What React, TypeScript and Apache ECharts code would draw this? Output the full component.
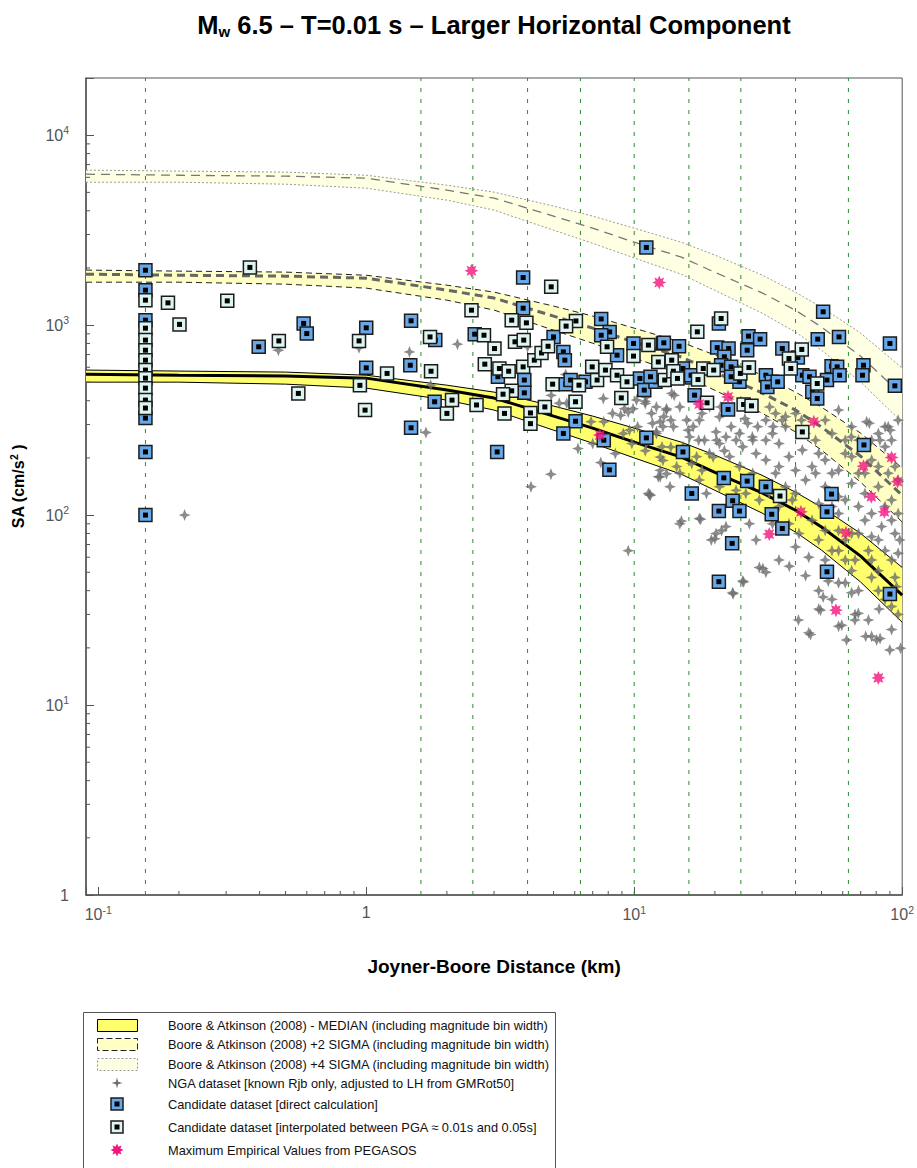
import React, { useEffect, useRef } from 'react';
import * as echarts from 'echarts';

// ---------------- data ----------------
const DIST = [0.09, 0.2, 0.5, 1, 2, 3, 5, 7, 10, 15, 20, 30, 40, 50, 70, 100];

const MED_UP = [580, 573, 566, 545, 483, 444, 375, 332, 287, 242, 207, 162, 132, 110, 80, 53];
const MED_MID = [552, 545, 539, 526, 455, 413, 332, 287, 242, 202, 168, 131, 106, 86.5, 60.8, 37.9];
const MED_LO = [501, 501, 489, 466, 403, 357, 280, 239, 200, 164, 135, 102.5, 81.4, 65.4, 44.4, 27.3];

const S2_UP = [1949, 1925, 1902, 1831, 1623, 1492, 1260, 1116, 964, 813, 696, 546, 444, 370, 270, 177];
const S2_MID = [1855, 1831, 1811, 1767, 1529, 1388, 1116, 964, 813, 679, 565, 440, 357, 291, 204, 127];
const S2_LO = [1683, 1683, 1643, 1566, 1354, 1200, 941, 803, 672, 551, 454, 344, 274, 220, 149, 92];

const S4_UP = [6548, 6469, 6390, 6153, 5453, 5013, 4234, 3748, 3240, 2732, 2337, 1835, 1490, 1242, 908, 594];
const S4_MID = [6232, 6153, 6085, 5938, 5137, 4663, 3748, 3240, 2732, 2281, 1897, 1479, 1197, 977, 686, 428];
const S4_LO = [5656, 5656, 5521, 5261, 4550, 4031, 3161, 2698, 2258, 1852, 1524, 1157, 919, 738, 501, 308];

const NGA: [number, number][] = [
  [0.21, 100], [0.47, 738], [0.94, 760], [1.45, 723], [2.19, 794], [1.74, 483], [1.67, 272],
  [4.0, 769], [4.89, 164], [4.12, 141], [6.17, 224], [7.5, 189], [8.5, 211], [11.3, 130], [12.3, 159],
  [9.5, 349], [10.2, 403], [9.9, 363], [8.9, 335], [8.3, 343], [7.7, 310], [6.9, 310], [5.6, 388], [5.25, 388], [4.9, 427], [5.55, 550],
  [11.1, 418], [12.1, 371], [13.2, 363], [11.1, 472], [12.8, 292], [12.1, 275], [12.8, 194], [12.5, 172], [13.2, 165],
  [9.1, 269], [10.3, 292], [9.6, 280], [9.5, 65], [11.4, 128],
  [7.67, 411], [9.2, 363], [11.0, 397], [14.1, 427], [17.9, 343], [21.0, 371], [25.9, 322], [32.0, 371], [36.7, 330], [42.1, 316],
  [33.0, 292], [27.6, 258], [64.6, 258], [75.4, 304], [90.3, 280], [82.6, 248],
  [11.0, 387], [13.8, 437], [14.8, 371], [15.7, 316], [14.0, 292], [13.2, 357], [12.5, 310], [11.6, 343], [17.5, 316], [19.1, 371],
  [20.8, 329], [16.1, 258], [18.3, 248], [20.2, 274], [23.0, 292], [24.0, 248], [26.5, 304], [28.9, 292], [31.0, 316], [33.7, 343],
  [36.7, 292], [40.0, 343], [51.6, 316], [57.9, 357], [64.8, 292], [73.7, 310], [81.5, 269], [88.7, 292], [96.6, 316],
  [11.1, 238], [12.7, 229], [14.4, 180], [17.1, 203], [19.1, 211], [20.8, 238], [22.7, 203], [25.4, 229], [28.5, 211], [31.0, 248],
  [34.7, 238], [37.8, 203], [42.4, 220], [46.1, 180], [51.6, 195], [57.9, 172], [64.8, 203], [68.7, 166], [76.9, 195], [86.3, 229], [94.0, 180],
  [11.5, 127], [12.5, 159], [13.6, 141], [14.8, 166], [17.5, 153], [18.6, 130], [20.8, 141], [24.0, 135], [27.7, 166], [29.3, 120],
  [33.7, 166], [36.7, 141], [40.0, 130], [43.6, 153], [47.5, 166], [51.6, 141], [57.9, 125], [64.8, 147], [72.6, 130], [81.5, 141], [91.3, 120],
  [14.8, 90], [17.5, 96], [20.2, 80], [22.0, 87], [26.9, 90], [28.5, 74], [37.8, 90], [41.2, 80], [46.1, 94], [51.6, 83],
  [57.9, 102], [64.8, 80], [72.6, 94], [76.9, 77], [83.8, 87], [91.3, 94], [98.0, 74],
  [19.4, 74], [29.3, 53], [31.0, 50], [34.7, 58], [40.0, 68], [44.8, 60], [51.6, 58], [57.9, 65], [66.7, 58], [74.8, 65], [81.5, 51], [91.3, 58], [96.6, 63],
  [25.4, 45], [23.3, 39], [43.6, 48], [48.8, 40], [54.7, 36], [61.3, 44], [68.7, 40], [76.9, 47], [86.3, 36], [95.3, 42],
  [48.8, 32], [57.9, 26], [66.7, 30], [74.8, 28], [44.8, 24], [76.9, 23], [91.3, 25],
  [12.1, 269], [15.2, 229], [16.6, 292], [22.0, 258], [24.7, 269], [27.7, 248], [32.8, 269], [35.7, 316], [43.6, 269], [47.5, 248],
  [54.7, 269], [61.3, 248], [68.7, 248], [76.9, 248], [86.3, 292], [91.3, 248],
  [24.7, 180], [31.0, 195], [34.7, 180], [40.0, 172], [48.8, 211], [54.7, 166], [61.3, 211], [72.6, 166], [81.5, 180], [88.7, 166], [96.6, 153],
  [26.1, 130], [31.9, 130], [34.7, 111], [38.9, 120], [48.8, 115], [54.7, 111], [61.3, 120], [68.7, 111], [76.9, 102], [86.3, 111], [96.6, 102],
  [32.8, 90], [57.9, 83], [61.3, 74], [68.7, 80], [81.5, 74], [94.0, 80], [48.8, 74],
  [54.7, 65], [64.8, 51], [76.9, 58], [86.3, 65], [94.0, 47], [61.3, 58],
  [57.9, 44], [64.8, 39], [81.5, 40], [91.3, 33], [96.6, 30],
  [15.0, 93], [17.7, 95], [20.0, 75], [21.2, 83], [23.4, 38.5], [25.6, 44.5], [30.2, 52.4], [37.9, 53.8],
  [45.5, 23.5], [49.6, 31.6], [53.0, 45], [59.5, 26.3], [66.6, 28], [73.1, 23], [82.7, 22.4], [89.9, 19.5], [98.6, 19.9],
  [82.0, 32], [41.0, 28], [62.0, 22], [50.7, 37], [68.6, 30.4], [80.3, 22],
  [20.3, 248], [17.4, 248], [15.9, 280], [13.7, 316], [12.9, 330], [11.7, 304], [15.0, 211], [16.4, 187], [17.9, 172], [19.7, 202],
  [21.7, 218], [9.8, 238], [11.0, 218], [12.5, 202], [13.7, 228], [7.0, 238], [7.7, 258],
];

const DIRECT: [number, number][] = [
  [0.15, 1946], [0.15, 1528], [0.15, 1062], [0.15, 324], [0.15, 215], [0.15, 100],
  [0.584, 1021], [0.6, 903], [0.397, 769], [1.0, 968], [1.0, 596],
  [11.1, 2565], [3.85, 1782], [3.85, 1228], [1.47, 1054], [7.53, 1078], [8.1, 921], [7.53, 885], [8.63, 695], [9.94, 801], [12.8, 801],
  [1.81, 834], [1.46, 615], [1.8, 395], [1.47, 288], [3.08, 215], [2.54, 896], [3.1, 535], [3.89, 514], [3.89, 440],
  [5.0, 867], [5.44, 723], [5.51, 654], [5.55, 489], [6.04, 312], [5.44, 269], [7.7, 248], [8.08, 173],
  [10.5, 524], [10.9, 455], [12.0, 503], [6.58, 503], [11.1, 255], [5.79, 514],
  [50.7, 1175], [20.7, 1019], [26.7, 875], [29.5, 844], [48.4, 844], [58.1, 867], [90.0, 801], [12.9, 807], [14.7, 774], [20.4, 762],
  [22.5, 753], [26.4, 738], [35.7, 753], [40.8, 675], [21.7, 681],
  [15.2, 591], [21.1, 615], [23.0, 603], [24.7, 503], [23.0, 535], [31.0, 545], [32.6, 503], [31.4, 473], [42.4, 545], [45.1, 535],
  [46.2, 446], [48.2, 411], [52.4, 514], [54.5, 608], [57.2, 603], [58.4, 545], [71.7, 615], [71.1, 545], [93.9, 479],
  [16.4, 530], [16.8, 428], [22.4, 360], [72.0, 234], [16.3, 545], [11.5, 535], [34.3, 503],
  [15.2, 215], [16.4, 130], [21.6, 157], [23.3, 119], [20.7, 105], [24.7, 105], [26.4, 151], [31.0, 141], [32.6, 101], [35.7, 85],
  [23.2, 71], [20.7, 44.6], [54.5, 129], [52.4, 104], [52.4, 50.3], [90.0, 38.4],
];

const INTERP: [number, number][] = [
  [0.15, 1354], [0.15, 964], [0.15, 834], [0.15, 738], [0.15, 654], [0.15, 580], [0.15, 526], [0.15, 466], [0.15, 403], [0.15, 366],
  [0.368, 2013], [0.182, 1310], [0.303, 1342], [0.201, 1009], [0.472, 826], [0.94, 826], [0.947, 482], [0.558, 437], [0.99, 357],
  [4.9, 1591], [2.47, 1199], [3.49, 1062], [3.96, 1028], [6.06, 1052], [5.57, 988], [7.92, 769], [11.3, 785], [9.94, 687], [12.3, 640],
  [1.73, 867], [1.196, 557], [1.745, 572], [2.09, 403], [2.0, 343], [2.58, 380], [2.75, 885], [3.01, 753], [2.77, 623], [3.14, 591],
  [3.4, 572], [3.59, 817], [3.87, 834], [3.85, 603], [3.49, 451], [3.24, 433], [3.28, 343], [4.1, 345], [4.1, 303], [4.24, 654],
  [4.51, 714], [4.77, 774], [4.64, 371], [4.96, 489], [6.22, 483], [6.04, 395], [6.97, 603], [7.27, 514], [7.81, 580], [8.63, 545],
  [9.4, 503], [13.0, 514], [8.95, 414],
  [21.1, 1084], [17.2, 922], [42.2, 745], [13.8, 654], [37.8, 667], [38.4, 591], [14.0, 572], [18.1, 591], [19.8, 580], [24.9, 557],
  [26.8, 598], [48.2, 493], [17.3, 517], [14.5, 524], [18.7, 390], [25.6, 382], [27.4, 376], [42.4, 274], [35.0, 126],
];

const PEGASOS: [number, number][] = [
  [2.47, 1932], [12.4, 1678], [7.44, 264], [17.5, 384], [22.4, 419], [46.8, 310], [91.3, 201], [71.7, 181],
  [96.1, 150], [76.7, 125], [85.8, 104], [41.9, 104], [61.7, 80.7], [31.9, 79.4], [56.6, 31.6], [81.5, 13.9],
];

const GUIDE_X = [0.15, 1.6, 2.5, 4, 6.3, 10, 16, 25, 40, 63];

const X_TICKS = [0.1, 1, 10, 100];
const X_TICK_LABELS = ['10^-1', '1', '10^1', '10^2'];
const Y_TICKS = [1, 10, 100, 1000, 10000];
const Y_TICK_LABELS = ['1', '10^1', '10^2', '10^3', '10^4'];
const MINOR_X = [0.2, 0.3, 0.4, 0.5, 0.6, 0.7, 0.8, 0.9, 2, 3, 4, 5, 6, 7, 8, 9, 20, 30, 40, 50, 60, 70, 80, 90];
const MINOR_Y = [2, 3, 4, 5, 6, 7, 8, 9, 20, 30, 40, 50, 60, 70, 80, 90, 200, 300, 400, 500, 600, 700, 800, 900,
  2000, 3000, 4000, 5000, 6000, 7000, 8000, 9000];

const LEGEND_TEXTS = [
  'Boore & Atkinson (2008) - MEDIAN (including magnitude bin width)',
  'Boore & Atkinson (2008) +2 SIGMA (including magnitude bin width)',
  'Boore & Atkinson (2008) +4 SIGMA (including magnitude bin width)',
  'NGA dataset [known Rjb only, adjusted to LH from GMRot50]',
  'Candidate dataset [direct calculation]',
  'Candidate dataset [interpolated between PGA \u2248 0.01s and 0.05s]',
  'Maximum Empirical Values from PEGASOS',
];

// ---------------- styling ----------------
const X_MIN = 0.09, X_MAX = 100, Y_MIN = 1, Y_MAX = 20000;
const FONT = '"Liberation Sans", Arial, sans-serif';
const C_MED = '#FFFF6E';
const C_S2 = '#FFFFC4';
const C_S4 = '#FFFFE4';
const C_BLUE = '#68A8E8';
const C_LIGHT = '#DDF4F0';
const C_PINK = '#F2147E';
const C_GRAY = '#6E6E6E';
const STAR4 = 'path://M0,-10L2.8,-2.8L10,0L2.8,2.8L0,10L-2.8,2.8L-10,0L-2.8,-2.8Z';
const BURST = 'path://M10,0L5.08,2.1L7.07,7.07L2.1,5.08L0,10L-2.1,5.08L-7.07,7.07L-5.08,2.1L-10,0L-5.08,-2.1L-7.07,-7.07L-2.1,-5.08L0,-10L2.1,-5.08L7.07,-7.07L5.08,-2.1Z';

function richLabel(s: string) {
  const parts = s.split('^');
  return parts.length === 1 ? `{b|${parts[0]}}` : `{b|${parts[0]}}{s|${parts[1]}}`;
}
function tickFormatter(ticks: number[], labels: string[]) {
  return (v: number) => {
    for (let i = 0; i < ticks.length; i++) {
      if (Math.abs(Math.log10(v) - Math.log10(ticks[i])) < 0.004) return richLabel(labels[i]);
    }
    return '';
  };
}
const tickRich = {
  b: { fontSize: 16, color: '#555', fontFamily: FONT },
  s: { fontSize: 10.5, color: '#555', fontFamily: FONT, padding: [0, 0, 10, 0] },
};

function bandSeries(lo: number[], up: number[], fill: string) {
  return {
    type: 'custom', coordinateSystem: 'cartesian2d', silent: true, z: 1,
    data: DIST.map((d, i) => [d, lo[i], up[i]]),
    encode: { x: 0, y: [1, 2] },
    renderItem: (params: any, api: any) => {
      if (params.dataIndex !== 0) return null;
      const pts: number[][] = [];
      for (let i = 0; i < DIST.length; i++) pts.push(api.coord([DIST[i], up[i]]));
      for (let i = DIST.length - 1; i >= 0; i--) pts.push(api.coord([DIST[i], lo[i]]));
      return { type: 'polygon', shape: { points: pts }, style: { fill } };
    },
  };
}
function curve(vals: number[], color: string, width: number, type: any, z = 3) {
  return {
    type: 'line', silent: true, z, symbol: 'none', showSymbol: false,
    data: DIST.map((d, i) => [d, vals[i]]),
    lineStyle: { color, width, type },
  };
}
function squareSeries(data: [number, number][], fill: string, z: number) {
  return {
    type: 'custom', coordinateSystem: 'cartesian2d', silent: true, z,
    data, encode: { x: 0, y: 1 },
    renderItem: (params: any, api: any) => {
      const p = api.coord([api.value(0), api.value(1)]);
      return {
        type: 'group', children: [
          { type: 'rect', shape: { x: p[0] - 6.5, y: p[1] - 6.5, width: 13, height: 13 }, style: { fill, stroke: '#1b1b1b', lineWidth: 1.5 } },
          { type: 'rect', shape: { x: p[0] - 2.5, y: p[1] - 2.5, width: 5, height: 5 }, style: { fill: '#000' } },
        ],
      };
    },
  };
}

function starPoints(cx: number, cy: number, rOut: number, rIn: number, n: number) {
  const pts: number[][] = [];
  for (let k = 0; k < n * 2; k++) {
    const a = (Math.PI * k) / n - Math.PI / 2;
    const r = k % 2 === 0 ? rOut : rIn;
    pts.push([cx + r * Math.cos(a), cy + r * Math.sin(a)]);
  }
  return pts;
}

export default function App() {
  const ref = useRef<HTMLDivElement>(null);
  useEffect(() => {
    document.body.style.margin = '0';
    const chart = echarts.init(ref.current!, undefined, { renderer: 'svg' });

    const rowY = [1025.5, 1044.5, 1064.5, 1083, 1104, 1127, 1150];
    const legendGraphics: any[] = [
      { type: 'rect', shape: { x: 83.5, y: 1012.5, width: 472, height: 170 }, style: { fill: '#fff', stroke: '#555', lineWidth: 1 } },
      { type: 'rect', shape: { x: 97.5, y: 1019.5, width: 40, height: 12 }, style: { fill: C_MED, stroke: '#000', lineWidth: 1 } },
      { type: 'rect', shape: { x: 97.5, y: 1038.5, width: 40, height: 12 }, style: { fill: C_S2, stroke: '#222', lineWidth: 1, lineDash: [6, 3] } },
      { type: 'rect', shape: { x: 97.5, y: 1058.5, width: 40, height: 12 }, style: { fill: C_S4, stroke: '#999', lineWidth: 1, lineDash: [2, 2] } },
      { type: 'polygon', shape: { points: starPoints(117, rowY[3], 5.5, 1.6, 4) }, style: { fill: C_GRAY } },
      { type: 'rect', shape: { x: 111, y: rowY[4] - 6, width: 12, height: 12 }, style: { fill: C_BLUE, stroke: '#1b1b1b', lineWidth: 1.5 } },
      { type: 'rect', shape: { x: 114.5, y: rowY[4] - 2.5, width: 5, height: 5 }, style: { fill: '#000' } },
      { type: 'rect', shape: { x: 111, y: rowY[5] - 6, width: 12, height: 12 }, style: { fill: C_LIGHT, stroke: '#1b1b1b', lineWidth: 1.5 } },
      { type: 'rect', shape: { x: 114.5, y: rowY[5] - 2.5, width: 5, height: 5 }, style: { fill: '#000' } },
      { type: 'polygon', shape: { points: starPoints(117, rowY[6], 6.5, 3.6, 8) }, style: { fill: C_PINK } },
      ...LEGEND_TEXTS.map((t, i) => ({
        type: 'text', x: 168, y: rowY[i],
        style: { text: t, fontSize: 12.8, fontFamily: FONT, fill: '#111', verticalAlign: 'middle', align: 'left' },
      })),
    ];

    const option: any = {
      animation: false,
      backgroundColor: '#fff',
      title: {
        text: '{m|M}{w|w}{m| 6.5 \u2013 T=0.01 s \u2013 Larger Horizontal Component}',
        left: 489, top: 5, textAlign: 'center',
        textStyle: {
          rich: {
            m: { fontSize: 25.5, fontWeight: 'bold', fontFamily: FONT, color: '#000' },
            w: { fontSize: 15, fontWeight: 'bold', fontFamily: FONT, color: '#000', padding: [14, 0, 0, 0] },
          },
        },
      },
      grid: { left: 83, right: 12, top: 78, bottom: 273, show: true, borderColor: '#555', borderWidth: 1, backgroundColor: 'transparent' },
      xAxis: {
        type: 'log', logBase: 10, min: X_MIN, max: X_MAX,
        name: 'Joyner-Boore Distance (km)', nameLocation: 'middle', nameGap: 62,
        nameTextStyle: { fontSize: 19, fontWeight: 'bold', fontFamily: FONT, color: '#000' },
        axisLine: { lineStyle: { color: '#555', width: 1.5 } },
        axisTick: { inside: true, length: 8, lineStyle: { color: '#555' } },
        axisLabel: { formatter: tickFormatter(X_TICKS, X_TICK_LABELS), margin: 9, rich: tickRich },
        splitLine: { show: false }, minorTick: { show: false },
      },
      yAxis: {
        type: 'log', logBase: 10, min: Y_MIN, max: Y_MAX,
        name: '{a|SA (cm/s}{s|2}{a| )}', nameLocation: 'middle', nameGap: 57, nameRotate: 90,
        nameTextStyle: {
          rich: {
            a: { fontSize: 16, fontWeight: 'bold', fontFamily: FONT, color: '#000' },
            s: { fontSize: 10.5, fontWeight: 'bold', fontFamily: FONT, color: '#000', padding: [0, 0, 10, 0] },
          },
        },
        axisLine: { lineStyle: { color: '#555', width: 1.5 } },
        axisTick: { inside: true, length: 8, lineStyle: { color: '#555' } },
        axisLabel: { formatter: tickFormatter(Y_TICKS, Y_TICK_LABELS), margin: 17, rich: tickRich },
        splitLine: { show: false },
      },
      graphic: legendGraphics,
      series: [
        bandSeries(S4_LO, S4_UP, C_S4),
        bandSeries(S2_LO, S2_UP, C_S2),
        bandSeries(MED_LO, MED_UP, C_MED),
        {
          type: 'custom', coordinateSystem: 'cartesian2d', silent: true, z: 2,
          data: GUIDE_X.map((x) => [x, Y_MIN]), encode: { x: 0, y: 1 },
          renderItem: (params: any, api: any) => {
            const a = api.coord([api.value(0), Y_MIN]);
            const b = api.coord([api.value(0), Y_MAX]);
            return { type: 'line', shape: { x1: a[0], y1: a[1], x2: b[0], y2: b[1] }, style: { stroke: '#2E8B2E', lineWidth: 1, lineDash: [4, 7] } };
          },
        },
        curve(S4_UP, '#999', 1, [2, 2]),
        curve(S4_LO, '#999', 1, [2, 2]),
        curve(S4_MID, '#777', 1.3, [9, 6]),
        curve(S2_UP, '#222', 1, [6, 4]),
        curve(S2_LO, '#222', 1, [6, 4]),
        curve(S2_MID, '#666', 3, [8, 5]),
        curve(MED_UP, '#000', 1, 'solid'),
        curve(MED_LO, '#000', 1, 'solid'),
        curve(MED_MID, '#000', 3, 'solid'),
        { type: 'scatter', silent: true, z: 4, data: NGA, symbol: STAR4, symbolSize: 12, itemStyle: { color: C_GRAY } },
        squareSeries(DIRECT, C_BLUE, 5),
        squareSeries(INTERP, C_LIGHT, 6),
        { type: 'scatter', silent: true, z: 7, data: PEGASOS, symbol: BURST, symbolSize: 14, itemStyle: { color: C_PINK } },
        {
          type: 'custom', coordinateSystem: 'cartesian2d', silent: true, z: 8,
          data: MINOR_X.map((x) => [x, Y_MIN]), encode: { x: 0, y: 1 },
          renderItem: (params: any, api: any) => {
            const a = api.coord([api.value(0), Y_MIN]);
            return { type: 'line', shape: { x1: a[0], y1: a[1], x2: a[0], y2: a[1] - 4 }, style: { stroke: '#555', lineWidth: 1 } };
          },
        },
        {
          type: 'custom', coordinateSystem: 'cartesian2d', silent: true, z: 8,
          data: MINOR_Y.map((y) => [X_MIN, y]), encode: { x: 0, y: 1 },
          renderItem: (params: any, api: any) => {
            const a = api.coord([X_MIN, api.value(1)]);
            return { type: 'line', shape: { x1: a[0], y1: a[1], x2: a[0] + 4, y2: a[1] }, style: { stroke: '#555', lineWidth: 1 } };
          },
        },
      ],
    };
    chart.setOption(option);
    return () => chart.dispose();
  }, []);
  return <div ref={ref} style={{ width: 917, height: 1168 }} />;
}
